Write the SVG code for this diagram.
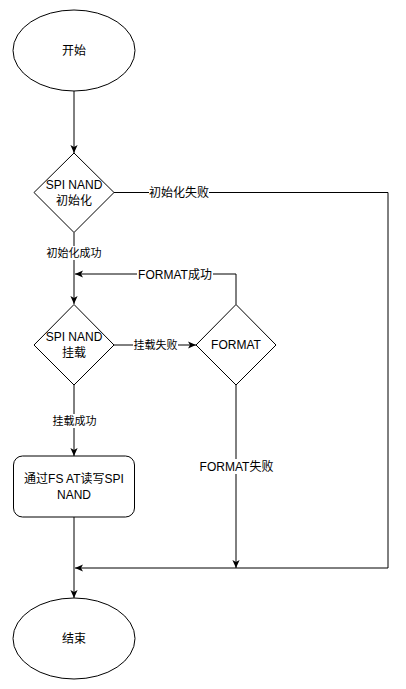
<svg xmlns="http://www.w3.org/2000/svg" width="406" height="689" viewBox="0 0 406 689">
<defs>
<style>
.shape{fill:#fff;stroke:#000;stroke-width:1}
.edge{fill:none;stroke:#000;stroke-width:1}
.t{font-family:"Liberation Sans","Noto Sans CJK SC",sans-serif;font-size:12px;fill:#000;text-anchor:middle}
.l11{font-size:11px}
.bg{fill:#fff}
</style>
<marker id="arr" viewBox="0 0 10 10" refX="10" refY="5" markerWidth="8" markerHeight="8" markerUnits="userSpaceOnUse" orient="auto">
<path d="M0,0.5 L10,5 L0,9.5 L2.5,5 Z" fill="#000"/>
</marker>
</defs>
<rect width="406" height="689" fill="#fff"/>
<g id="connectors">
<path class="edge" d="M74,91 V153" marker-end="url(#arr)"/>
<path class="edge" d="M74,232.5 V304" marker-end="url(#arr)"/>
<path class="edge" d="M114,192.5 H388 V568 H75" marker-end="url(#arr)"/>
<path class="edge" d="M114,345 H196" marker-end="url(#arr)"/>
<path class="edge" d="M236,304.5 V274 H75" marker-end="url(#arr)"/>
<path class="edge" d="M74,385 V456" marker-end="url(#arr)"/>
<path class="edge" d="M236,385 V568" marker-end="url(#arr)"/>
<path class="edge" d="M74,517 V598" marker-end="url(#arr)"/>
<rect class="bg" x="46" y="246" width="56" height="14"/>
<text class="t l11" x="74" y="257">初始化成功</text>
<rect class="bg" x="149" y="185" width="60" height="15"/>
<text class="t" x="179" y="196.5">初始化失败</text>
<rect class="bg" x="133" y="338" width="45" height="14"/>
<text class="t l11" x="155.5" y="349">挂载失败</text>
<rect class="bg" x="137" y="267" width="76" height="15"/>
<text class="t" x="175" y="278.5">FORMAT成功</text>
<rect class="bg" x="52" y="414" width="45" height="14"/>
<text class="t l11" x="74.5" y="425">挂载成功</text>
<rect class="bg" x="198" y="459" width="77" height="15"/>
<text class="t" x="236.5" y="470.5">FORMAT失败</text>
</g>
<g id="start">
<ellipse class="shape" cx="74" cy="50.5" rx="61" ry="40.5"/>
<text class="t" x="74" y="55">开始</text>
</g>
<g id="init">
<path class="shape" d="M74,153 L114,192.5 L74,232.5 L34,192.5 Z"/>
<text class="t" x="74" y="189">SPI NAND</text>
<text class="t" x="74" y="205">初始化</text>
</g>
<g id="mount">
<path class="shape" d="M74,304.5 L114,345 L74,385 L34,345 Z"/>
<text class="t" x="74" y="341">SPI NAND</text>
<text class="t" x="74" y="357">挂载</text>
</g>
<g id="format">
<path class="shape" d="M236,304.5 L276,345 L236,385 L196,345 Z"/>
<text class="t" x="236" y="349">FORMAT</text>
</g>
<g id="rw">
<rect class="shape" x="13.5" y="456" width="121" height="61" rx="9" ry="9"/>
<text class="t" x="74" y="483">通过FS AT读写SPI</text>
<text class="t" x="74" y="498.5">NAND</text>
</g>
<g id="end">
<ellipse class="shape" cx="74" cy="638.5" rx="61" ry="40.5"/>
<text class="t" x="74" y="643">结束</text>
</g>
</svg>
